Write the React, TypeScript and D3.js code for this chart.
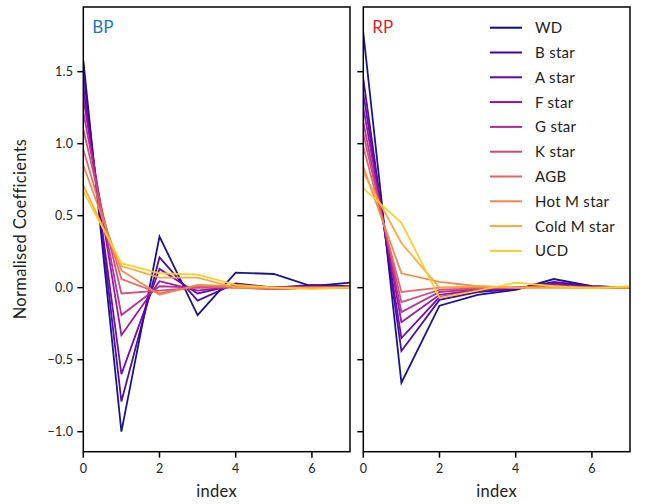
import React from "react";
import * as d3 from "d3";

const classes = ["WD", "B star", "A star", "F star", "G star", "K star", "AGB", "Hot M star", "Cold M star", "UCD"];
const indexValues = [0, 1, 2, 3, 4, 5, 6, 7];

const bpWD = [1.58, -1.0, 0.355, -0.19, 0.105, 0.095, 0.01, 0.035];
const bpB = [1.5, -0.79, 0.21, -0.09, 0.03, 0.0, 0.02, 0.01];
const bpA = [1.4, -0.6, 0.13, -0.04, 0.02, 0.0, 0.01, 0.0];
const bpF = [1.32, -0.33, 0.045, -0.02, 0.01, 0.0, 0.005, 0.0];
const bpG = [1.22, -0.19, 0.01, 0.0, 0.01, -0.01, 0.0, 0.0];
const bpK = [1.1, -0.04, -0.02, 0.0, 0.0, -0.01, 0.0, 0.0];
const bpAGB = [0.96, 0.06, -0.04, 0.01, 0.0, -0.01, 0.0, 0.0];
const bpHotM = [0.85, 0.12, -0.05, 0.02, 0.01, 0.0, 0.0, 0.0];
const bpColdM = [0.71, 0.15, 0.07, 0.07, 0.0, 0.0, 0.0, 0.0];
const bpUCD = [0.67, 0.17, 0.1, 0.09, 0.02, 0.0, -0.01, 0.0];

const rpWD = [1.77, -0.66, -0.125, -0.05, -0.015, 0.06, 0.01, 0.0];
const rpB = [1.45, -0.44, -0.085, -0.03, -0.01, 0.04, 0.01, 0.0];
const rpA = [1.35, -0.35, -0.065, -0.02, -0.005, 0.03, 0.005, 0.0];
const rpF = [1.25, -0.24, -0.05, -0.015, 0.0, 0.02, 0.005, 0.0];
const rpG = [1.15, -0.17, -0.03, -0.01, 0.0, 0.015, 0.0, 0.0];
const rpK = [1.07, -0.1, -0.015, -0.005, 0.0, 0.01, 0.0, 0.0];
const rpAGB = [0.98, -0.03, 0.0, 0.0, 0.0, 0.005, 0.0, 0.0];
const rpHotM = [0.84, 0.1, 0.04, 0.01, 0.0, 0.0, 0.0, 0.0];
const rpColdM = [0.8, 0.31, 0.0, 0.01, 0.0, 0.0, 0.0, 0.0];
const rpUCD = [0.69, 0.45, -0.07, -0.02, 0.035, 0.01, -0.005, 0.01];

const bpSeries = [bpWD, bpB, bpA, bpF, bpG, bpK, bpAGB, bpHotM, bpColdM, bpUCD];
const rpSeries = [rpWD, rpB, rpA, rpF, rpG, rpK, rpAGB, rpHotM, rpColdM, rpUCD];

const yTicks = [-1.0, -0.5, 0.0, 0.5, 1.0, 1.5];
const xTicks = [0, 2, 4, 6];

const FONT = "Lato, 'Noto Sans', sans-serif";

const top = 7;
const bottom = 451.7;
const yScale = d3.scaleLinear().domain([-1.139, 1.949]).range([bottom, top]);
const colorOf = (i: number) => d3.interpolatePlasma(i / 10);

function Panel({ x0, x1, series, title, titleColor, showYLabels, legend }: any) {
  const xScale = d3.scaleLinear().domain([0, 7]).range([x0, x1]);
  const line = d3
    .line<number>()
    .x((_, i) => xScale(indexValues[i]))
    .y((d) => yScale(d));
  const clipId = "clip-" + title;
  return (
    <g>
      <defs>
        <clipPath id={clipId}>
          <rect x={x0} y={top} width={x1 - x0} height={bottom - top} />
        </clipPath>
      </defs>
      <g clipPath={`url(#${clipId})`}>
        {series.map((s: number[], i: number) => (
          <path key={i} d={line(s) || ""} fill="none" stroke={colorOf(i)} strokeWidth={1.8} strokeOpacity={0.95} strokeLinejoin="miter" />
        ))}
      </g>
      <rect x={x0} y={top} width={x1 - x0} height={bottom - top} fill="none" stroke="#000" strokeWidth={1.5} />
      {yTicks.map((t) => (
        <g key={t}>
          <line x1={x0 - 6} x2={x0} y1={yScale(t)} y2={yScale(t)} stroke="#000" strokeWidth={1.5} />
          {showYLabels && (
            <text x={x0 - 10} y={yScale(t)} dy="0.36em" textAnchor="end" fontFamily={FONT} fontSize={12.5} letterSpacing={0.3} fill="#222">
              {d3.format(".1f")(t).replace("-", "\u2212")}
            </text>
          )}
        </g>
      ))}
      {xTicks.map((t) => (
        <g key={t}>
          <line x1={xScale(t)} x2={xScale(t)} y1={bottom} y2={bottom + 6} stroke="#000" strokeWidth={1.5} />
          <text x={xScale(t)} y={bottom + 21} textAnchor="middle" fontFamily={FONT} fontSize={12.5} fill="#222">
            {t}
          </text>
        </g>
      ))}
      <text x={(x0 + x1) / 2} y={497} textAnchor="middle" fontFamily={FONT} fontSize={16.5} letterSpacing={0.3} fill="#222">
        index
      </text>
      <text x={x0 + 9} y={33} fontFamily={FONT} fontSize={17} fill={titleColor}>
        {title}
      </text>
      {legend &&
        classes.map((c, i) => {
          const ly = 27.7 + i * 24.8;
          return (
            <g key={c}>
              <line x1={490} x2={522} y1={ly} y2={ly} stroke={colorOf(i)} strokeWidth={2} />
              <text x={535} y={ly} dy="0.36em" fontFamily={FONT} fontSize={15} letterSpacing={0.3} fill="#222">
                {c}
              </text>
            </g>
          );
        })}
    </g>
  );
}

export default function App() {
  return (
    <svg width={648} height={504} style={{ position: "absolute", left: 0, top: 0, background: "#fff" }}>
      <rect width={648} height={504} fill="#fff" />
      <Panel x0={83.3} x1={350} series={bpSeries} title="BP" titleColor="#1f77b4" showYLabels={true} legend={false} />
      <Panel x0={363.3} x1={630} series={rpSeries} title="RP" titleColor="#d62728" showYLabels={false} legend={true} />
      <text transform="translate(26,229) rotate(-90)" textAnchor="middle" fontFamily={FONT} fontSize={16.5} letterSpacing={0.3} fill="#222">
        Normalised Coefficients
      </text>
    </svg>
  );
}
